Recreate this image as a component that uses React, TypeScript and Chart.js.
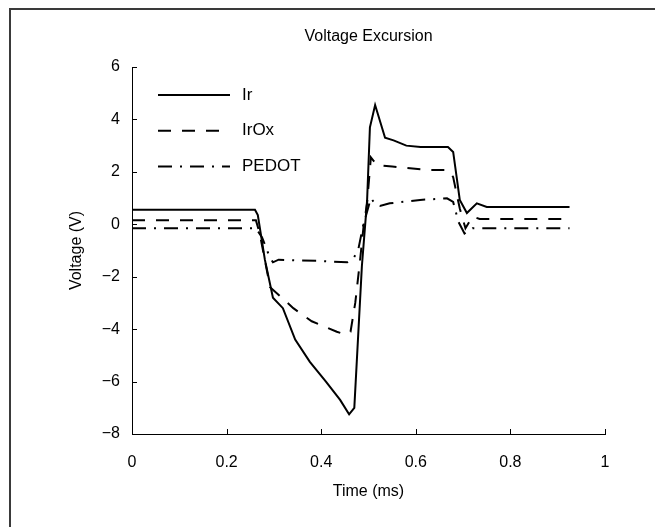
import React, { useEffect, useRef } from "react";
import { Chart, registerables } from "chart.js";

Chart.register(...registerables);

const TITLE = "Voltage Excursion";
const X_TITLE = "Time (ms)";
const Y_TITLE = "Voltage (V)";

const xTicks = [0, 0.2, 0.4, 0.6, 0.8, 1];
const yTicks = [-8, -6, -4, -2, 0, 2, 4, 6];

const seriesLabels = ["Ir", "IrOx", "PEDOT"];

const irTime = [0, 0.26, 0.266, 0.281, 0.298, 0.319, 0.345, 0.376, 0.41, 0.44, 0.459, 0.47, 0.486, 0.497, 0.503, 0.514, 0.535, 0.553, 0.58, 0.61, 0.668, 0.679, 0.693, 0.708, 0.729, 0.75, 0.925];
const irVolt = [0.55, 0.55, 0.35, -1.36, -2.8, -3.2, -4.4, -5.25, -6.0, -6.7, -7.25, -7.0, -1.6, 0.9, 3.7, 4.55, 3.3, 3.2, 3.0, 2.95, 2.95, 2.76, 0.93, 0.43, 0.8, 0.66, 0.66];

const iroxTime = [0, 0.262, 0.27, 0.292, 0.323, 0.341, 0.38, 0.433, 0.45, 0.462, 0.472, 0.482, 0.49, 0.497, 0.505, 0.518, 0.55, 0.624, 0.668, 0.679, 0.693, 0.705, 0.72, 0.735, 0.925];
const iroxVolt = [0.15, 0.15, -0.35, -2.4, -2.9, -3.2, -3.7, -4.1, -4.2, -4.1, -3.0, -1.4, 0.0, 0.8, 2.55, 2.26, 2.2, 2.07, 2.07, 1.8, 0.6, -0.15, 0.3, 0.2, 0.2];

const pedotTime = [0, 0.262, 0.275, 0.29, 0.298, 0.31, 0.35, 0.4, 0.455, 0.468, 0.478, 0.488, 0.505, 0.515, 0.524, 0.545, 0.609, 0.666, 0.679, 0.69, 0.703, 0.72, 0.925];
const pedotVolt = [-0.15, -0.15, -0.5, -1.2, -1.45, -1.35, -1.38, -1.4, -1.45, -1.3, -1.0, -0.1, 1.0, 0.75, 0.7, 0.8, 0.93, 0.99, 0.85, 0.1, -0.35, -0.15, -0.15];

const dashes: number[][] = [[], [13, 11], [14, 8, 2, 8]];

const FONT = '"Liberation Sans", Arial, sans-serif';
const FS = 16;

const fmt = (v: number) => (v < 0 ? "\u2212" + Math.abs(v) : String(v));

const overlay = {
  id: "overlay",
  afterDraw(chart: any) {
    const { ctx, chartArea, scales } = chart;
    const xs = scales.x;
    const ys = scales.y;
    ctx.save();
    ctx.strokeStyle = "#000";
    ctx.lineWidth = 1;
    ctx.setLineDash([]);
    for (const v of xTicks) {
      const px = Math.round(xs.getPixelForValue(v)) + 0.5;
      ctx.beginPath();
      ctx.moveTo(px, chartArea.bottom);
      ctx.lineTo(px, chartArea.bottom - 5);
      ctx.stroke();
    }
    for (const v of yTicks) {
      const py = Math.round(ys.getPixelForValue(v)) + 0.5;
      ctx.beginPath();
      ctx.moveTo(chartArea.left, py);
      ctx.lineTo(chartArea.left + 5, py);
      ctx.stroke();
    }
    // title
    ctx.fillStyle = "#000";
    ctx.font = `${FS}px ${FONT}`;
    ctx.textAlign = "center";
    ctx.textBaseline = "middle";
    ctx.fillText(TITLE, (chartArea.left + chartArea.right) / 2, chartArea.top - 30);
    // legend
    ctx.font = `${FS + 1}px ${FONT}`;
    chart.data.datasets.forEach((ds: any, i: number) => {
      const ly = chartArea.top + 28 + i * 35.8;
      const lx = chartArea.left + 26;
      ctx.strokeStyle = "#000";
      ctx.lineWidth = 2;
      ctx.setLineDash(ds.borderDash || []);
      ctx.beginPath();
      ctx.moveTo(lx, ly);
      ctx.lineTo(lx + 72, ly);
      ctx.stroke();
      ctx.setLineDash([]);
      ctx.textAlign = "left";
      ctx.fillText(ds.label, lx + 84, ly);
    });
    ctx.restore();
  },
};

export default function App() {
  const ref = useRef<HTMLCanvasElement>(null);
  useEffect(() => {
    if (!ref.current) return;
    const times = [irTime, iroxTime, pedotTime];
    const volts = [irVolt, iroxVolt, pedotVolt];
    const chart = new Chart(ref.current, {
      type: "line",
      data: {
        datasets: seriesLabels.map((label, i) => ({
          label,
          data: times[i].map((t, j) => ({ x: t, y: volts[i][j] })),
          borderColor: "#000",
          borderWidth: 2,
          borderDash: dashes[i],
          pointRadius: 0,
          tension: 0,
          fill: false,
        })),
      },
      options: {
        animation: false,
        responsive: false,
        layout: { padding: { top: 67, right: 50, bottom: 0, left: 0 } },
        plugins: { legend: { display: false }, title: { display: false }, tooltip: { enabled: false } },
        scales: {
          x: {
            type: "linear",
            min: 0,
            max: 1,
            afterBuildTicks: (s: any) => {
              s.ticks = xTicks.map((v) => ({ value: v }));
            },
            afterFit: (s: any) => {
              s.height = 93;
            },
            grid: { display: false, drawTicks: false },
            border: { display: true, color: "#000", width: 1 },
            ticks: {
              color: "#000",
              padding: 19,
              maxRotation: 0,
              font: { family: FONT, size: FS },
              callback: (v: any) => fmt(Number(v)),
            },
            title: {
              display: true,
              text: X_TITLE,
              color: "#000",
              font: { family: FONT, size: FS },
              padding: { top: 0, bottom: 26 },
            },
          },
          y: {
            type: "linear",
            min: -8,
            max: 6,
            afterBuildTicks: (s: any) => {
              s.ticks = yTicks.map((v) => ({ value: v }));
            },
            afterFit: (s: any) => {
              s.width = 132;
            },
            grid: { display: false, drawTicks: false },
            border: { display: true, color: "#000", width: 1 },
            ticks: {
              color: "#000",
              padding: 12,
              font: { family: FONT, size: FS },
              callback: (v: any) => fmt(Number(v)),
            },
            title: {
              display: true,
              text: Y_TITLE,
              color: "#000",
              font: { family: FONT, size: FS },
              padding: { top: 67, bottom: 0 },
            },
          },
        },
      },
      plugins: [overlay],
    });
    return () => chart.destroy();
  }, []);

  return (
    <div style={{ position: "fixed", left: 0, top: 0, width: 655, height: 527, overflow: "hidden", background: "#fff" }}>
      <div
        style={{
          position: "absolute",
          left: 9,
          top: 8,
          width: 700,
          height: 600,
          border: "2px solid #3a3a3a",
        }}
      />
      <canvas ref={ref} width={655} height={527} style={{ position: "absolute", left: 0, top: 0, width: 655, height: 527 }} />
    </div>
  );
}
